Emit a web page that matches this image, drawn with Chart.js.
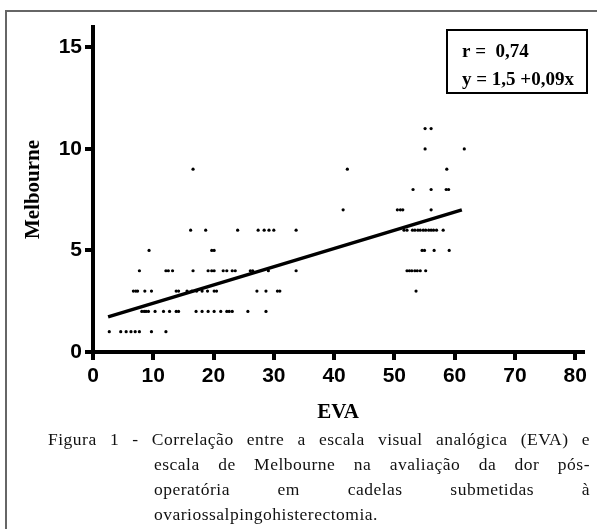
<!DOCTYPE html>
<html>
<head>
<meta charset="utf-8">
<script src="https://cdn.jsdelivr.net/npm/chart.js@4"></script>
<style>
body { margin: 0; background: #fff; width: 597px; height: 529px; overflow: hidden; position: relative; }
#moldura { position: absolute; left: 5px; top: 10px; width: 600px; height: 530px; border: 2px solid #666; }
#grafico { position: absolute; left: 0; top: 0; }
#legenda { position: absolute; left: 48px; top: 427px; width: 542px; font-family: "Liberation Serif", serif; font-size: 17.5px; line-height: 25px; color: #111; letter-spacing: 0.5px; }
#legenda div { text-align: justify; text-align-last: justify; white-space: nowrap; }
#legenda div.recuo { margin-left: 106px; }
#legenda div.ultima { text-align-last: left; }
</style>
</head>
<body>
<div id="moldura"></div>
<canvas id="grafico" width="597" height="529"></canvas>
<div id="legenda">
  <div>Figura 1 - Correlação entre a escala visual analógica (EVA) e</div>
  <div class="recuo">escala de Melbourne na avaliação da dor pós-</div>
  <div class="recuo">operatória em cadelas submetidas à</div>
  <div class="recuo ultima">ovariossalpingohisterectomia.</div>
</div>
<script>
// valores de EVA para cada nota da escala de Melbourne
const notas = [1, 2, 3, 4, 5, 6, 7, 8, 9, 10, 11];
const evaNota1 = [2.7, 4.6, 5.5, 6.3, 7.0, 7.7, 9.7, 12.1];
const evaNota2 = [8.1, 8.5, 8.8, 9.2, 10.3, 11.7, 12.7, 13.8, 14.2, 17.1, 18.1, 19.1, 20.1, 21.2, 22.2, 22.6, 23.1, 25.7, 28.7];
const evaNota3 = [6.7, 7.1, 7.4, 8.6, 9.7, 13.8, 14.2, 15.6, 16.4, 17.2, 18.1, 19.0, 20.1, 20.5, 27.2, 28.7, 30.6, 31.0, 53.6];
const evaNota4 = [7.7, 12.1, 12.5, 13.2, 16.6, 19.1, 19.7, 20.1, 21.6, 22.2, 23.1, 23.6, 26.1, 26.5, 29.1, 33.7, 52.1, 52.5, 52.9, 53.4, 53.8, 54.3, 55.2];
const evaNota5 = [9.3, 19.7, 20.1, 54.6, 55.0, 56.6, 59.1];
const evaNota6 = [16.2, 18.7, 24.0, 27.4, 28.4, 29.2, 30.0, 33.7, 51.6, 52.1, 53.0, 53.4, 53.9, 54.3, 54.8, 55.2, 55.7, 56.1, 56.5, 57.0, 58.1];
const evaNota7 = [41.5, 50.5, 51.0, 51.4, 56.1];
const evaNota8 = [53.1, 56.1, 58.6, 59.0];
const evaNota9 = [16.6, 42.2, 58.7];
const evaNota10 = [55.1, 61.6];
const evaNota11 = [55.1, 56.1];

// reta de regressão (pontas)
const retaEva = [2.5, 61.2];
const retaMelbourne = [1.73, 7.0];

const ticksX = [0, 10, 20, 30, 40, 50, 60, 70, 80];
const ticksY = [0, 5, 10, 15];

const textoR = "r =  0,74";
const textoEquacao = "y = 1,5 +0,09x";

const grupos = [evaNota1, evaNota2, evaNota3, evaNota4, evaNota5, evaNota6, evaNota7, evaNota8, evaNota9, evaNota10, evaNota11];
const pontos = [];
grupos.forEach((lista, i) => {
    lista.forEach(v => pontos.push({ x: v, y: notas[i] }));
});

const reta = retaEva.map((v, i) => ({ x: v, y: retaMelbourne[i] }));

// caixa com r e equação
const caixaTexto = {
    id: 'caixaTexto',
    afterDraw(chart) {
        const ctx = chart.ctx;
        ctx.save();
        ctx.strokeStyle = '#000';
        ctx.lineWidth = 2;
        ctx.strokeRect(447, 30, 140, 63);
        ctx.fillStyle = '#000';
        ctx.font = 'bold 19px "Liberation Serif"';
        ctx.textBaseline = 'alphabetic';
        ctx.fillText(textoR, 462, 57);
        ctx.fillText(textoEquacao, 462, 85);
        ctx.restore();
    }
};

const fonteTicks = { family: 'Liberation Sans', size: 21, weight: 'bold' };
const fonteTitulo = { family: 'Liberation Serif', size: 21, weight: 'bold' };

new Chart(document.getElementById('grafico'), {
    type: 'scatter',
    data: {
        datasets: [
            {
                type: 'line',
                data: reta,
                borderColor: '#000',
                borderWidth: 3.5,
                pointRadius: 0,
                fill: false
            },
            {
                data: pontos,
                backgroundColor: '#000',
                borderWidth: 0,
                pointRadius: 1.6
            }
        ]
    },
    options: {
        responsive: false,
        animation: false,
        layout: { padding: { top: 27, right: 14, bottom: 104, left: 0 } },
        plugins: { legend: { display: false }, tooltip: { enabled: false } },
        scales: {
            x: {
                type: 'linear',
                min: 0,
                max: 81.3,
                afterFit(scale) { scale.height = 73; },
                afterBuildTicks(scale) { scale.ticks = ticksX.map(v => ({ value: v })); },
                border: { color: '#000', width: 4 },
                grid: { drawOnChartArea: false, color: '#000', lineWidth: 4, tickLength: 8 },
                ticks: { color: '#000', font: fonteTicks, padding: 4, maxRotation: 0 },
                title: { display: true, text: 'EVA', color: '#000', font: fonteTitulo, padding: { top: 0, bottom: 0 } }
            },
            y: {
                type: 'linear',
                min: 0,
                max: 16,
                afterFit(scale) { scale.width = 93; },
                afterBuildTicks(scale) { scale.ticks = ticksY.map(v => ({ value: v })); },
                border: { color: '#000', width: 4 },
                grid: { drawOnChartArea: false, color: '#000', lineWidth: 4, tickLength: 8 },
                ticks: { color: '#000', font: fonteTicks, padding: 3 },
                title: { display: true, text: 'Melbourne', color: '#000', font: fonteTitulo, padding: { top: 21, bottom: 0 } }
            }
        }
    },
    plugins: [caixaTexto]
});
</script>
</body>
</html>
